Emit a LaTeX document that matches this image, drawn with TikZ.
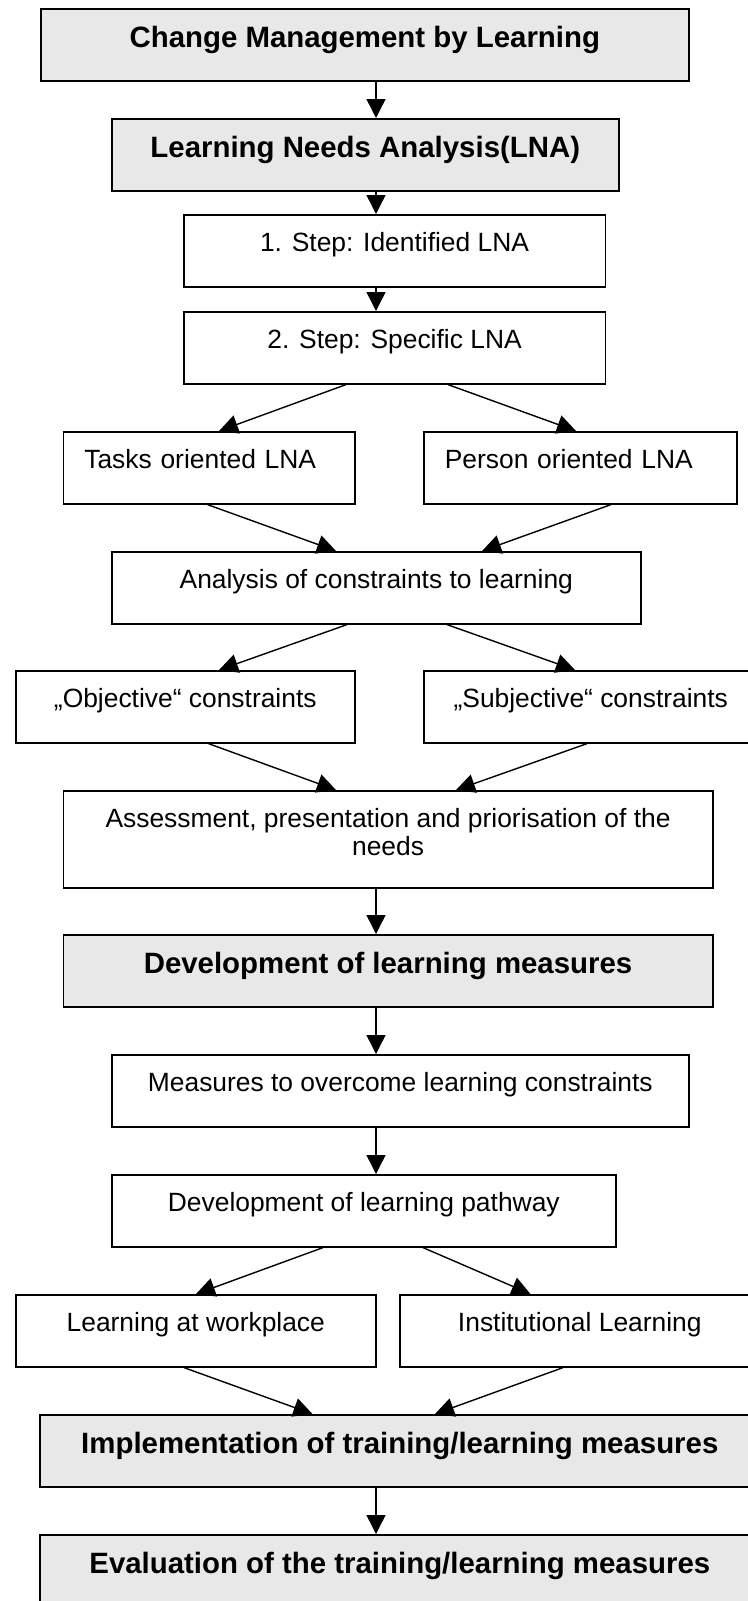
\documentclass[tikz,border=0pt]{standalone}
\usepackage{fontspec}
\setmainfont{Liberation Sans}
\usetikzlibrary{arrows.meta}
\definecolor{headgray}{RGB}{232,232,232}

\tikzset{
  box/.style={draw, line width=0.8pt, anchor=north west, inner xsep=0pt, inner ysep=0pt,
    font=\fontsize{13.2}{14}\selectfont, text height=18.5pt, text depth=17.5pt},
  headbox/.style={box, fill=headgray, font=\bfseries\fontsize{14.7}{16}\selectfont,
    text height=19.5pt, text depth=16.5pt},
  leftbox/.style={box, align=left, inner xsep=10.5pt}
}

\begin{document}
\begin{tikzpicture}[x=0.5pt,y=-0.5pt,->,>={Triangle[length=9.5pt,width=9.5pt]},line width=0.7pt]
                \useasboundingbox (0,0) rectangle (748,1601);
                \coordinate (spine) at (376,0);
                \node[headbox, minimum width=324pt] (cml) at (40,8) {Change Management by Learning};
                \node[headbox, minimum width=253.5pt] (lna) at (111,118) {Learning Needs Analysis(LNA)};
                \node[box, minimum width=210.75pt] (step1) at (183,214) {1. Step: Identified LNA};
                \node[box, minimum width=210.75pt] (step2) at (183,311) {2. Step: Specific LNA};
                \node[leftbox, text width=124.75pt] (tasks) at (62.5,431) {Tasks oriented LNA};
                \node[leftbox, text width=135.5pt] (person) at (423,431) {Person oriented LNA};
                \node[box, minimum width=264.5pt] (constr) at (111,551) {Analysis of constraints to learning};
                \node[box, minimum width=169.5pt] (objective) at (15,670) {„Objective“ constraints};
                \node[box, minimum width=167pt] (subjective) at (423,670) {„Subjective“ constraints};
                \node[box, minimum width=324.75pt, align=center, text height=32.5pt, text depth=16pt] (assess) at (62.5,790)
                    {Assessment, presentation and priorisation of the\\needs};
                \node[headbox, minimum width=324.75pt] (devmeas) at (62.5,934) {Development of learning measures};
                \node[box, minimum width=288.5pt] (overcome) at (111,1054) {Measures to overcome learning constraints};
                \node[box, minimum width=252pt] (pathway) at (111,1174) {Development of learning pathway};
                \node[box, minimum width=180pt] (workplace) at (15,1294) {Learning at workplace};
                \node[box, minimum width=180pt] (institut) at (399,1294) {Institutional Learning};
                \node[headbox, minimum width=360pt] (implement) at (39,1414) {Implementation of training/learning measures};
                \node[headbox, minimum width=360pt] (evaluate) at (39,1534) {Evaluation of the training/learning measures};
                \draw (cml.south -| spine) -- (lna.north -| spine);
                \draw (lna.south -| spine) -- (step1.north -| spine);
                \draw (step1.south -| spine) -- (step2.north -| spine);
                \draw ([xshift=81.5pt]step2.south west) -- ([xshift=78.25pt]tasks.north west);
                \draw ([xshift=132.5pt]step2.south west) -- ([xshift=76.5pt]person.north west);
                \draw ([xshift=72.5pt]tasks.south west) -- ([xshift=112.5pt]constr.north west);
                \draw ([xshift=94pt]person.south west) -- ([xshift=185.5pt]constr.north west);
                \draw ([xshift=118pt]constr.south west) -- ([xshift=102pt]objective.north west);
                \draw ([xshift=168pt]constr.south west) -- ([xshift=76pt]subjective.north west);
                \draw ([xshift=96.75pt]objective.south west) -- ([xshift=136.75pt]assess.north west);
                \draw ([xshift=82pt]subjective.south west) -- ([xshift=196.75pt]assess.north west);
                \draw (assess.south -| spine) -- (devmeas.north -| spine);
                \draw (devmeas.south -| spine) -- (overcome.north -| spine);
                \draw (overcome.south -| spine) -- (pathway.north -| spine);
                \draw ([xshift=106pt]pathway.south west) -- ([xshift=90.5pt]workplace.north west);
                \draw ([xshift=156pt]pathway.south west) -- ([xshift=65.75pt]institut.north west);
                \draw ([xshift=84.5pt]workplace.south west) -- ([xshift=136.75pt]implement.north west);
                \draw ([xshift=82pt]institut.south west) -- ([xshift=198pt]implement.north west);
                \draw (implement.south -| spine) -- (evaluate.north -| spine);
            \end{tikzpicture}
\end{document}
